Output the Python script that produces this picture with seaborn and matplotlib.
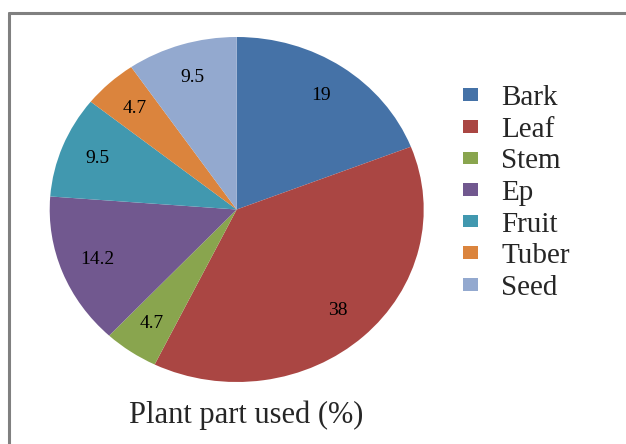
import matplotlib
matplotlib.use("Agg")
import matplotlib.pyplot as plt
import seaborn as sns
from matplotlib.patches import Patch
from matplotlib.lines import Line2D

parts = ["Bark", "Leaf", "Stem", "Ep", "Fruit", "Tuber", "Seed"]
values = [19, 38, 4.7, 14.2, 9.5, 4.7, 9.5]
value_labels = ["19", "38", "4.7", "14.2", "9.5", "4.7", "9.5"]
colors = ["#4572A7", "#AA4643", "#89A54E", "#71588F", "#4198AF", "#DB843D", "#93A9CF"]
title = "Plant part used (%)"

sns.set_theme(style="white")
plt.rcParams["font.family"] = ["Liberation Serif", "DejaVu Serif"]

W, H = 626, 444
fig = plt.figure(figsize=(W / 100, H / 100), dpi=100)
palette = sns.color_palette(colors)

cx, cy, rx, ry = 236.7, 209.5, 187, 172.5
ax = fig.add_axes([(cx - rx) / W, 1 - (cy + ry) / H, 2 * rx / W, 2 * ry / H])
it = iter(value_labels)
wedges, texts, autotexts = ax.pie(
    values, colors=palette, startangle=90, counterclock=False,
    autopct=lambda p: next(it), pctdistance=0.8,
    wedgeprops=dict(linewidth=0), textprops=dict(fontsize=14, color="black"),
)
ax.set_aspect("auto")
ax.set_xlim(-1, 1)
ax.set_ylim(-1, 1)
ax.axis("off")

handles = [Patch(facecolor=c, edgecolor="none") for c in palette]
leg = fig.legend(handles, parts, loc="center left", bbox_to_anchor=(463 / W, 1 - 193 / H),
                 frameon=False, fontsize=21, handlelength=0.51, handleheight=0.3,
                 handletextpad=0.8, labelspacing=0.19, borderpad=0, borderaxespad=0)

fig.text(246.5 / W, 1 - 423 / H, title, ha="center", va="baseline", fontsize=22)

# border
fig.add_artist(Line2D([8.5 / W, 8.5 / W], [1 - 13.5 / H, 0], transform=fig.transFigure,
                      color="#808080", linewidth=2.2))
fig.add_artist(Line2D([8.5 / W, 1], [1 - 13.5 / H, 1 - 13.5 / H], transform=fig.transFigure,
                      color="#808080", linewidth=2.2))

fig.savefig("out.png", dpi=100)
